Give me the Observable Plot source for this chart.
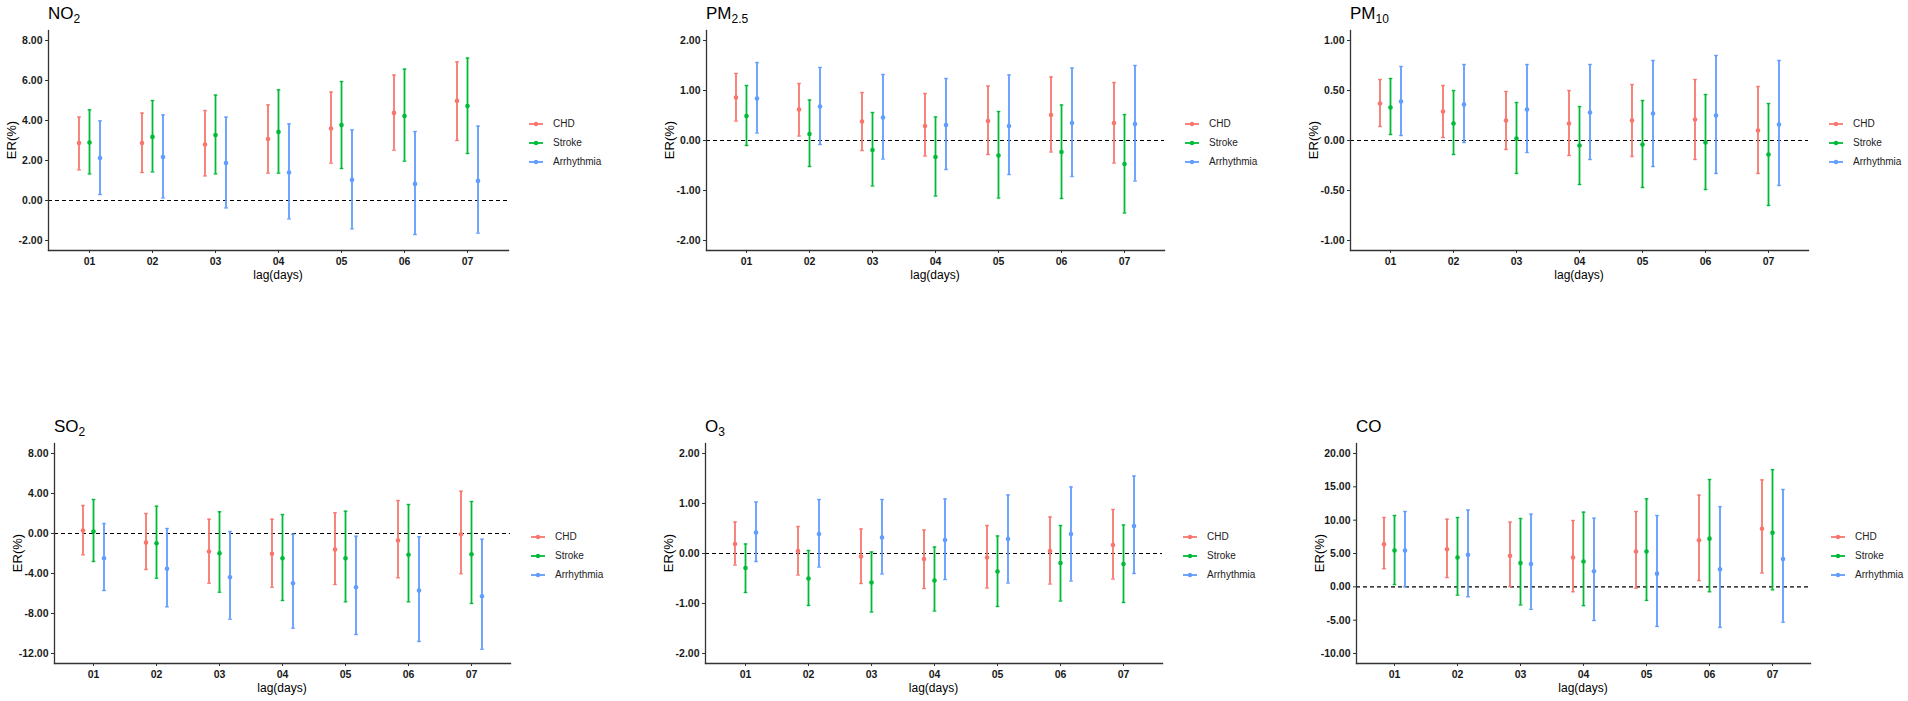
<!DOCTYPE html>
<html><head><meta charset="utf-8">
<script src="https://cdn.jsdelivr.net/npm/d3@7"></script>
<script src="https://cdn.jsdelivr.net/npm/@observablehq/plot@0.6"></script>
<style>
body{margin:0;background:#fff;font-family:"Liberation Sans",Arial,sans-serif;}
#root{position:relative;width:1908px;height:701px;overflow:hidden;background:#fff;}
.title{position:absolute;font-size:17px;color:#000;white-space:nowrap;line-height:1;}
.title sub{font-size:12px;position:relative;top:4px;vertical-align:baseline;line-height:0;}
.ylab{position:absolute;font-size:13px;color:#000;transform:translate(-50%,-50%) rotate(-90deg);white-space:nowrap;line-height:1;}
.xlab{position:absolute;font-size:12px;color:#000;transform:translate(-50%,-50%);white-space:nowrap;line-height:1;}
.leg{position:absolute;font-size:10px;color:#222;white-space:nowrap;line-height:1;display:flex;align-items:center;transform:translateY(-50%);}
.leg svg{margin-right:10px;}
</style>
</head><body>
<div id="root"></div>
<script>
// ---- categories ----
const lags = ["01","02","03","04","05","06","07"];
const seriesNames = ["CHD","Stroke","Arrhythmia"];
const seriesColors = ["#F8766D","#00BA38","#619CFF"];

// ---- values: [ER, lower, upper] per lag ----
const NO2_CHD = [[2.87,1.53,4.17],[2.87,1.40,4.37],[2.80,1.23,4.50],[3.07,1.37,4.78],[3.60,1.87,5.42],[4.38,2.52,6.27],[4.98,3.00,6.93]];
const NO2_Stroke = [[2.90,1.33,4.53],[3.18,1.43,5.00],[3.27,1.33,5.27],[3.43,1.37,5.53],[3.77,1.60,5.95],[4.22,1.97,6.57],[4.72,2.35,7.12]];
const NO2_Arr = [[2.12,0.30,3.98],[2.17,0.13,4.28],[1.87,-0.37,4.17],[1.40,-0.92,3.83],[1.03,-1.42,3.53],[0.83,-1.70,3.45],[0.98,-1.63,3.72]];

const PM25_CHD = [[0.86,0.39,1.34],[0.62,0.09,1.14],[0.38,-0.20,0.96],[0.29,-0.31,0.94],[0.39,-0.28,1.09],[0.51,-0.23,1.27],[0.35,-0.45,1.16]];
const PM25_Stroke = [[0.49,-0.10,1.10],[0.13,-0.52,0.81],[-0.19,-0.91,0.56],[-0.33,-1.11,0.47],[-0.30,-1.15,0.58],[-0.23,-1.16,0.71],[-0.47,-1.45,0.52]];
const PM25_Arr = [[0.84,0.15,1.56],[0.68,-0.08,1.46],[0.46,-0.37,1.32],[0.31,-0.58,1.24],[0.29,-0.68,1.31],[0.35,-0.72,1.45],[0.33,-0.81,1.50]];

const PM10_CHD = [[0.37,0.14,0.61],[0.29,0.03,0.55],[0.20,-0.09,0.49],[0.17,-0.15,0.50],[0.20,-0.16,0.56],[0.21,-0.19,0.61],[0.10,-0.33,0.54]];
const PM10_Stroke = [[0.33,0.06,0.62],[0.17,-0.14,0.50],[0.02,-0.33,0.38],[-0.05,-0.44,0.34],[-0.04,-0.47,0.40],[-0.02,-0.49,0.46],[-0.14,-0.65,0.37]];
const PM10_Arr = [[0.39,0.05,0.74],[0.36,-0.02,0.76],[0.31,-0.12,0.76],[0.28,-0.19,0.76],[0.27,-0.26,0.80],[0.25,-0.33,0.85],[0.16,-0.45,0.80]];

const SO2_CHD = [[0.30,-2.13,2.80],[-0.90,-3.60,2.00],[-1.80,-4.97,1.43],[-2.03,-5.37,1.43],[-1.60,-5.10,2.07],[-0.70,-4.43,3.30],[-0.07,-4.03,4.23]];
const SO2_Stroke = [[0.20,-2.80,3.40],[-0.97,-4.47,2.73],[-1.97,-5.87,2.17],[-2.47,-6.70,1.90],[-2.47,-6.83,2.23],[-2.13,-6.83,2.90],[-2.07,-7.00,3.20]];
const SO2_Arr = [[-2.47,-5.70,1.00],[-3.53,-7.33,0.50],[-4.37,-8.57,0.20],[-4.97,-9.47,-0.07],[-5.37,-10.10,-0.27],[-5.70,-10.80,-0.33],[-6.27,-11.57,-0.57]];

const O3_CHD = [[0.19,-0.23,0.63],[0.05,-0.43,0.54],[-0.06,-0.60,0.49],[-0.11,-0.70,0.47],[-0.08,-0.69,0.56],[0.05,-0.61,0.73],[0.17,-0.51,0.88]];
const O3_Stroke = [[-0.29,-0.78,0.19],[-0.50,-1.04,0.06],[-0.58,-1.17,0.03],[-0.54,-1.15,0.13],[-0.36,-1.06,0.35],[-0.19,-0.95,0.56],[-0.21,-0.98,0.57]];
const O3_Arr = [[0.42,-0.16,1.03],[0.39,-0.27,1.08],[0.32,-0.41,1.08],[0.27,-0.52,1.09],[0.29,-0.59,1.17],[0.39,-0.55,1.33],[0.55,-0.40,1.55]];

const CO_CHD = [[6.39,2.72,10.40],[5.64,1.39,10.15],[4.65,0.05,9.70],[4.40,-0.74,9.95],[5.30,-0.20,11.30],[6.98,0.94,13.76],[8.71,2.08,16.04]];
const CO_Stroke = [[5.45,0.35,10.70],[4.41,-1.24,10.40],[3.56,-2.72,10.25],[3.80,-2.82,11.20],[5.30,-2.03,13.20],[7.23,-0.74,16.10],[8.12,-0.45,17.57]];
const CO_Arr = [[5.45,0.00,11.30],[4.80,-1.49,11.53],[3.42,-3.37,10.90],[2.33,-5.05,10.30],[1.98,-5.94,10.70],[2.62,-6.09,12.03],[4.16,-5.30,14.60]];

// ---- y tick labels / limits ----
const NO2_ticks = [-2,0,2,4,6,8];
const PM25_ticks = [-2,-1,0,1,2];
const PM10_ticks = [-1,-0.5,0,0.5,1];
const SO2_ticks = [-12,-8,-4,0,4,8];
const O3_ticks = [-2,-1,0,1,2];
const CO_ticks = [-10,-5,0,5,10,15,20];

// ---- titles ----
const titles = ["NO<sub>2</sub>","PM<sub>2.5</sub>","PM<sub>10</sub>","SO<sub>2</sub>","O<sub>3</sub>","CO"];

// layout (frame rectangles)
const panels = [
  {title:titles[0], series:[NO2_CHD,NO2_Stroke,NO2_Arr], ticks:NO2_ticks, left:48, top:30, w:460, h:220},
  {title:titles[1], series:[PM25_CHD,PM25_Stroke,PM25_Arr], ticks:PM25_ticks, left:706, top:30, w:458, h:220},
  {title:titles[2], series:[PM10_CHD,PM10_Stroke,PM10_Arr], ticks:PM10_ticks, left:1350, top:30, w:458, h:220},
  {title:titles[3], series:[SO2_CHD,SO2_Stroke,SO2_Arr], ticks:SO2_ticks, left:54, top:443, w:456, h:220},
  {title:titles[4], series:[O3_CHD,O3_Stroke,O3_Arr], ticks:O3_ticks, left:705, top:443, w:457, h:220},
  {title:titles[5], series:[CO_CHD,CO_Stroke,CO_Arr], ticks:CO_ticks, left:1356, top:443, w:454, h:220}
];

// horizontal cap symbol for error bar ends
const capSymbol = {
  draw(ctx, size) {
    const r = Math.sqrt(size / Math.PI);
    ctx.moveTo(-r, 0);
    ctx.lineTo(r, 0);
  }
};

const dodge = [-10.5, 0, 10.5];
const root = document.getElementById("root");
const ML = 50, MR = 4, MT = 4, MB = 22;

panels.forEach(p => {
  const lo = d3.min(p.ticks), hi = d3.max(p.ticks);
  const pad = (hi - lo) * 0.05;
  const marks = [
    Plot.ruleY([0], {stroke:"#000", strokeWidth:1.1, strokeDasharray:"4,3"})
  ];
  p.series.forEach((vals, si) => {
    const rows = vals.map((v, i) => ({lag: lags[i], er: v[0], lo: v[1], hi: v[2]}));
    const c = seriesColors[si], dx = dodge[si];
    marks.push(
      Plot.ruleX(rows, {x:"lag", y1:"lo", y2:"hi", stroke:c, strokeWidth:1.8, dx}),
      Plot.dot(rows, {x:"lag", y:"lo", symbol:capSymbol, r:1.8, stroke:c, fill:"none", strokeWidth:1.4, dx}),
      Plot.dot(rows, {x:"lag", y:"hi", symbol:capSymbol, r:1.8, stroke:c, fill:"none", strokeWidth:1.4, dx}),
      Plot.dot(rows, {x:"lag", y:"er", r:2.3, fill:c, stroke:"none", dx})
    );
  });
  marks.push(
    Plot.axisY({ticks:p.ticks, tickFormat:d => d.toFixed(2), tickSize:3, tickPadding:3, label:null, fontWeight:"bold", stroke:"#333"}),
    Plot.axisX({tickSize:3, tickPadding:4, label:null, fontWeight:"bold", stroke:"#333"}),
    Plot.frame({anchor:"left", stroke:"#333", strokeWidth:1.3}),
    Plot.frame({anchor:"bottom", stroke:"#333", strokeWidth:1.3})
  );
  const svg = Plot.plot({
    width: ML + p.w + MR, height: MT + p.h + MB,
    marginLeft: ML, marginRight: MR, marginTop: MT, marginBottom: MB,
    x: {type:"point", domain: lags, padding: 0.6},
    y: {domain:[lo - pad, hi + pad]},
    style: {fontFamily:'"Liberation Sans", Arial, sans-serif', fontSize:"10.5px", color:"#1a1a1a", background:"transparent"},
    marks
  });
  svg.style.position = "absolute";
  svg.style.left = (p.left - ML) + "px";
  svg.style.top = (p.top - MT) + "px";
  root.appendChild(svg);

  const t = document.createElement("div");
  t.className = "title";
  t.innerHTML = p.title;
  t.style.left = p.left + "px";
  t.style.top = (p.top - 25.5) + "px";
  root.appendChild(t);

  const yl = document.createElement("div");
  yl.className = "ylab";
  yl.textContent = "ER(%)";
  yl.style.left = (p.left - 37) + "px";
  yl.style.top = (p.top + p.h / 2) + "px";
  root.appendChild(yl);

  const xl = document.createElement("div");
  xl.className = "xlab";
  xl.textContent = "lag(days)";
  xl.style.left = (p.left + p.w / 2) + "px";
  xl.style.top = (p.top + p.h + 25) + "px";
  root.appendChild(xl);

  seriesNames.forEach((name, si) => {
    const lg = document.createElement("div");
    lg.className = "leg";
    lg.style.left = (p.left + p.w + 21) + "px";
    lg.style.top = (p.top + p.h / 2 + 3 + (si - 1) * 19) + "px";
    lg.innerHTML = `<svg width="14" height="8"><line x1="0" y1="4" x2="14" y2="4" stroke="${seriesColors[si]}" stroke-width="1.8"/><circle cx="7" cy="4" r="2.2" fill="${seriesColors[si]}"/></svg><span>${name}</span>`;
    root.appendChild(lg);
  });
});
</script>
</body></html>
